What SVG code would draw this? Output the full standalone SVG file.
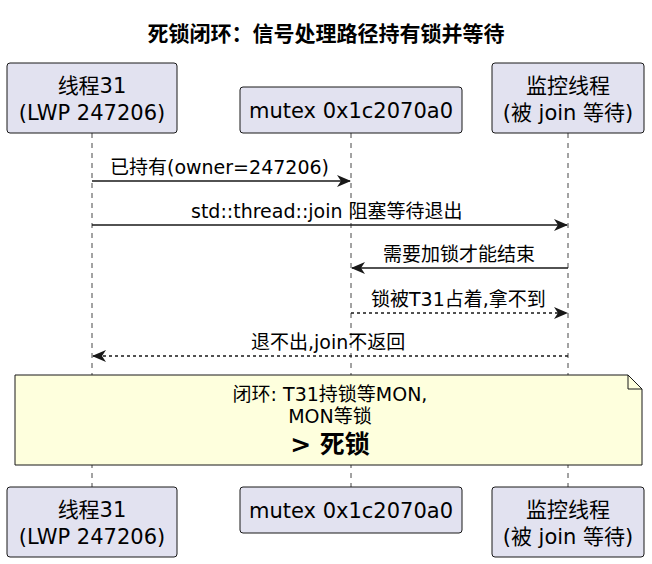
<svg xmlns="http://www.w3.org/2000/svg" width="652" height="564" viewBox="0 0 652 564">
<defs>
<style>
text{font-family:"DejaVu Sans","Noto Sans CJK SC",sans-serif;fill:#000}
.p{fill:#E2E2F0;stroke:#181818;stroke-width:1}
.pt{font-size:21px;text-anchor:middle}
.m{font-size:19px}
.l{stroke:#181818;stroke-width:1.5;fill:none}
.d{stroke-dasharray:3 3}
.ll{stroke:#181818;stroke-width:0.8;stroke-dasharray:5 5}
</style>
<marker id="a" markerWidth="14" markerHeight="12" refX="13" refY="6" orient="auto" markerUnits="userSpaceOnUse"><path d="M0,0 L14,6 L0,12 L4,6 Z" fill="#181818"/></marker>
</defs>
<rect width="652" height="564" fill="#fff"/>
<text x="326" y="41" font-size="21" font-weight="bold" text-anchor="middle">死锁闭环：信号处理路径持有锁并等待</text>
<g id="lifelines">
<line class="ll" x1="92" y1="133" x2="92" y2="487"/>
<line class="ll" x1="351" y1="133" x2="351" y2="487"/>
<line class="ll" x1="568" y1="133" x2="568" y2="487"/>
</g>
<g id="t31"><rect class="p" x="7" y="63" width="170" height="70" rx="3"/><text class="pt" x="92" y="93">线程31</text><text class="pt" x="92" y="120">(LWP 247206)</text></g>
<g id="mutex"><rect class="p" x="240" y="87" width="222" height="46" rx="3"/><text class="pt" x="351" y="118">mutex 0x1c2070a0</text></g>
<g id="mon"><rect class="p" x="492" y="63" width="152" height="70" rx="3"/><text class="pt" x="568" y="93">监控线程</text><text class="pt" x="568" y="120">(被 join 等待)</text></g>
<g id="t31b"><rect class="p" x="7" y="487" width="170" height="70" rx="3"/><text class="pt" x="92" y="517">线程31</text><text class="pt" x="92" y="544">(LWP 247206)</text></g>
<g id="mutexb"><rect class="p" x="240" y="487" width="222" height="46" rx="3"/><text class="pt" x="351" y="518">mutex 0x1c2070a0</text></g>
<g id="monb"><rect class="p" x="492" y="487" width="152" height="70" rx="3"/><text class="pt" x="568" y="517">监控线程</text><text class="pt" x="568" y="544">(被 join 等待)</text></g>
<g id="connectors">
<line class="l" x1="92" y1="181" x2="350" y2="181" marker-end="url(#a)"/>
<text class="m" x="110" y="174">已持有(owner=247206)</text>
<line class="l" x1="92" y1="225" x2="567" y2="225" marker-end="url(#a)"/>
<text class="m" x="191" y="218">std::thread::join 阻塞等待退出</text>
<line class="l" x1="568" y1="268" x2="352" y2="268" marker-end="url(#a)"/>
<text class="m" x="383" y="261">需要加锁才能结束</text>
<line class="l d" x1="351" y1="313" x2="567" y2="313" marker-end="url(#a)"/>
<text class="m" x="371" y="306">锁被T31占着,拿不到</text>
<line class="l d" x1="568" y1="356" x2="93" y2="356" marker-end="url(#a)"/>
<text class="m" x="251" y="349">退不出,join不返回</text>
</g>
<g id="note">
<path d="M15,375 H628 L642,389 V465 H15 Z" fill="#FEFFDD" stroke="#181818"/>
<path d="M628,375 V389 H642" fill="none" stroke="#181818"/>
<text class="m" x="330" y="401" text-anchor="middle">闭环: T31持锁等MON,</text>
<text class="m" x="330" y="423" text-anchor="middle">MON等锁</text>
<text x="330" y="453" font-size="25" font-weight="bold" text-anchor="middle">&gt; 死锁</text>
</g>
</svg>
